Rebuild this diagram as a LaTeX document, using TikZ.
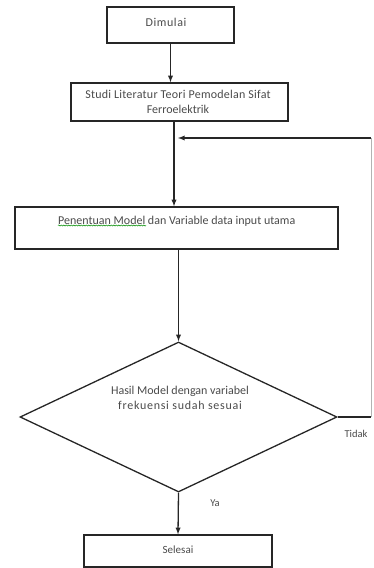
\documentclass[tikz,border=0pt]{standalone}
\usepackage{fontspec}
\setmainfont{Carlito}
\usetikzlibrary{shapes.geometric,decorations.pathmorphing}

\definecolor{linegray}{HTML}{262626}
\definecolor{textgray}{HTML}{4A4A4A}

\tikzset{
    procbox/.style={draw=linegray, line width=1.3pt, minimum width=#1, inner sep=0pt},
    decbox/.style={draw=linegray, line width=1.3pt, diamond, inner sep=0pt, minimum width=317pt, minimum height=150pt},
    flowtxt/.style={text=textgray, font=\fontsize{#1}{15.5}\selectfont, align=center, inner sep=0pt},
    flowtxt/.default=12,
    wire/.style={draw=linegray, line width=1.3pt},
    arr/.style={wire, -latex}
}

\begin{document}
\begin{tikzpicture}[x=1pt, y=-1pt]
    	\useasboundingbox (0, 0) rectangle (373, 568);
    	% Blocks:
    	\node[procbox=127pt, minimum height=36pt] (start) at (170.5, 25) {};
    	\node[flowtxt] (starttxt) at (166, 22) {\addfontfeatures{LetterSpace=5}Dimulai};
    	\node[procbox=217pt, minimum height=38pt] (study) at (179.5, 102) {};
    	\node[flowtxt] (studytxt) at (178, 102) {\addfontfeatures{LetterSpace=2}Studi Literatur Teori Pemodelan Sifat\\Ferroelektrik};
    	\node[procbox=323pt, minimum height=42pt] (model) at (176.5, 228) {};
    	\node[flowtxt, anchor=base west] (modeltxt) at (58, 224) {Penentuan Model dan Variable data input utama};
    	\node[decbox] (check) at (178.5, 417) {};
    	\node[flowtxt] (checktxt) at (180, 398) {Hasil Model dengan variabel\\\addfontfeatures{LetterSpace=6}frekuensi sudah sesuai};
    	\node[procbox=188pt, minimum height=32pt] (finish) at (178, 551) {};
    	\node[flowtxt=11] (finishtxt) at (178, 550) {Selesai};
    	% Spell check underline:
    	\draw[green!55!black, line width=0.5pt, decorate, decoration={snake, amplitude=0.6pt, segment length=2.5pt}]
    	    ([yshift=-1.5pt]modeltxt.base west) -- ++(88, 0);
    	% Connectors:
    	\draw[arr] (start.south) -- (start.south |- study.north);
    	\draw[arr] ([xshift=-5.5pt]study.south) -- ([xshift=-5.5pt]study.south |- model.north);
    	\draw[arr] (check.north |- model.south) -- (check.north);
    	\draw[arr] (check.south) -- (finish.north);
    	\coordinate (loopdn) at (371, 417);
    	\coordinate (loopup) at (371, 138);
    	\coordinate (loopend) at (178, 138);
    	\draw[wire] (check.east) -- (loopdn);
    	\draw[draw=linegray!35, line width=0.6pt] (loopdn) -- (loopup);
    	\draw[arr] (loopup) -- (loopend);
    	% Labels:
    	\node[flowtxt=10.5] (notxt) at (356, 434) {Tidak};
    	\node[flowtxt=10.5] (yestxt) at (215, 503) {Ya};
\end{tikzpicture}
\end{document}
